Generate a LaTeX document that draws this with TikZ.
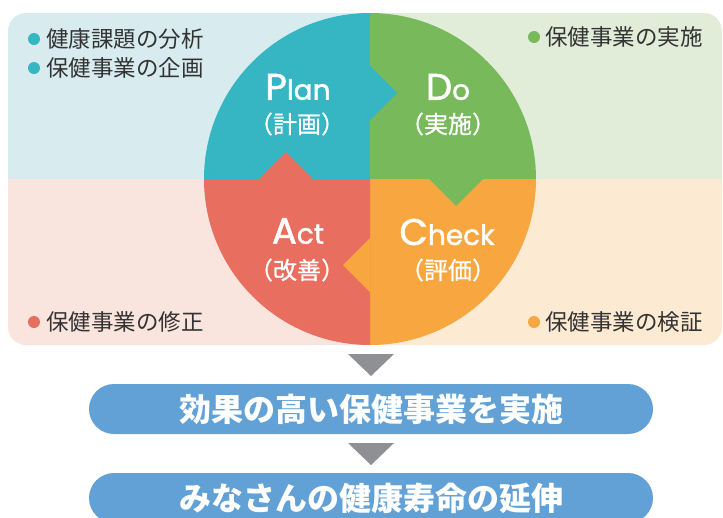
\documentclass[tikz,border=0pt]{standalone}
\usepackage{fontspec}
\setmainfont{Noto Sans CJK JP}
\newfontfamily\latinfont{Poppins}[FakeBold=1.5]
\newfontfamily\stagejpfont{Noto Sans CJK JP}[FakeBold=0.8]
\usetikzlibrary{positioning}

\definecolor{plancol}{HTML}{35B6C2}
\definecolor{docol}{HTML}{78B95C}
\definecolor{checkcol}{HTML}{F8A63F}
\definecolor{actcol}{HTML}{E86E60}
\definecolor{planbg}{HTML}{D8ECEF}
\definecolor{dobg}{HTML}{E1EDD9}
\definecolor{checkbg}{HTML}{FDEAD3}
\definecolor{actbg}{HTML}{FAE5DE}
\definecolor{barblue}{HTML}{62A1D6}
\definecolor{trigray}{HTML}{8F9093}
\definecolor{textgray}{HTML}{333333}

\newcommand\bigletter[1]{{\fontsize{37}{37}\selectfont #1}}
\newcommand\restletters[1]{{\fontsize{28}{28}\selectfont #1}}

\tikzset{
	bullet/.style={circle, inner sep=0pt, minimum size=12pt},
	itemtext/.style={anchor=west, inner sep=0pt, text=textgray, font=\fontsize{22.5}{22.5}\selectfont},
	stagename/.style={text=white, inner sep=0pt, font=\latinfont},
	stagejp/.style={text=white, inner sep=0pt, font=\stagejpfont\fontsize{24}{24}\selectfont},
	goalbar/.style={fill=barblue, rounded corners=25pt, minimum width=564pt, minimum height=50pt, inner sep=0pt, text=white, font=\fontsize{32}{32}\selectfont\bfseries}
}

\begin{document}
\begin{tikzpicture}[x=1pt, y=-1pt]
		\useasboundingbox (0,0) rectangle (723,517);

		\begin{scope}
			\clip[rounded corners=18pt] (8,13) rectangle (722,345);
			\fill[planbg] (0,0) rectangle (370,179);
			\fill[dobg] (370,0) rectangle (723,179);
			\fill[actbg] (0,179) rectangle (370,345);
			\fill[checkbg] (370,179) rectangle (723,345);
		\end{scope}

		\begin{scope}
			\clip (204,13) rectangle (370,179);
			\fill[plancol] (370,179) circle (166pt);
		\end{scope}
		\begin{scope}
			\clip (370,13) rectangle (537,179);
			\fill[docol] (370,179) circle (166pt);
		\end{scope}
		\begin{scope}
			\clip (370,179) rectangle (537,346);
			\fill[checkcol] (370,179) circle (166pt);
		\end{scope}
		\begin{scope}
			\clip (204,179) rectangle (370,346);
			\fill[actcol] (370,179) circle (166pt);
		\end{scope}

		\fill[plancol] (370,66) -- (397,93) -- (370,120) -- cycle;
		\fill[docol] (429,179) -- (456,206) -- (483,179) -- cycle;
		\fill[checkcol] (370,238) -- (343,265) -- (370,292) -- cycle;
		\fill[actcol] (259,179) -- (286,152) -- (313,179) -- cycle;

		\node[stagename] (plan) at (298,87) {\bigletter{P}\restletters{lan}};
		\node[stagename] (do) at (448,87) {\bigletter{D}\restletters{o}};
		\node[stagename] (check) at (447,232) {\bigletter{C}\restletters{heck}};
		\node[stagename] (act) at (298,231) {\bigletter{A}\restletters{ct}};

		\node[stagejp] (planjp) at (297,124) {（計画）};
		\node[stagejp] (dojp) at (448,124) {（実施）};
		\node[stagejp] (checkjp) at (448,270) {（評価）};
		\node[stagejp] (actjp) at (297,270) {（改善）};

		\node[bullet, fill=plancol] (dotone) at (34,39) {};
		\node[itemtext] (itemone) at (46,39) {健康課題の分析};
		\node[bullet, fill=plancol] (dottwo) at (34,68) {};
		\node[itemtext] (itemtwo) at (46,68) {保健事業の企画};
		\node[bullet, fill=docol] (dothree) at (534,37) {};
		\node[itemtext] (itemthree) at (545,37) {保健事業の実施};
		\node[bullet, fill=actcol] (dotfour) at (34,322) {};
		\node[itemtext] (itemfour) at (46,322) {保健事業の修正};
		\node[bullet, fill=checkcol] (dotfive) at (534,322) {};
		\node[itemtext] (itemfive) at (545,322) {保健事業の検証};

		\node[goalbar] (goalone) at (371,409) {効果の高い保健事業を実施};
		\node[goalbar] (goaltwo) at (371,498) {みなさんの健康寿命の延伸};

		\fill[trigray] (348,354) -- (394,354) -- (371,376) -- cycle;
		\fill[trigray] (348,443) -- (394,443) -- (371,465) -- cycle;
	\end{tikzpicture}
\end{document}
